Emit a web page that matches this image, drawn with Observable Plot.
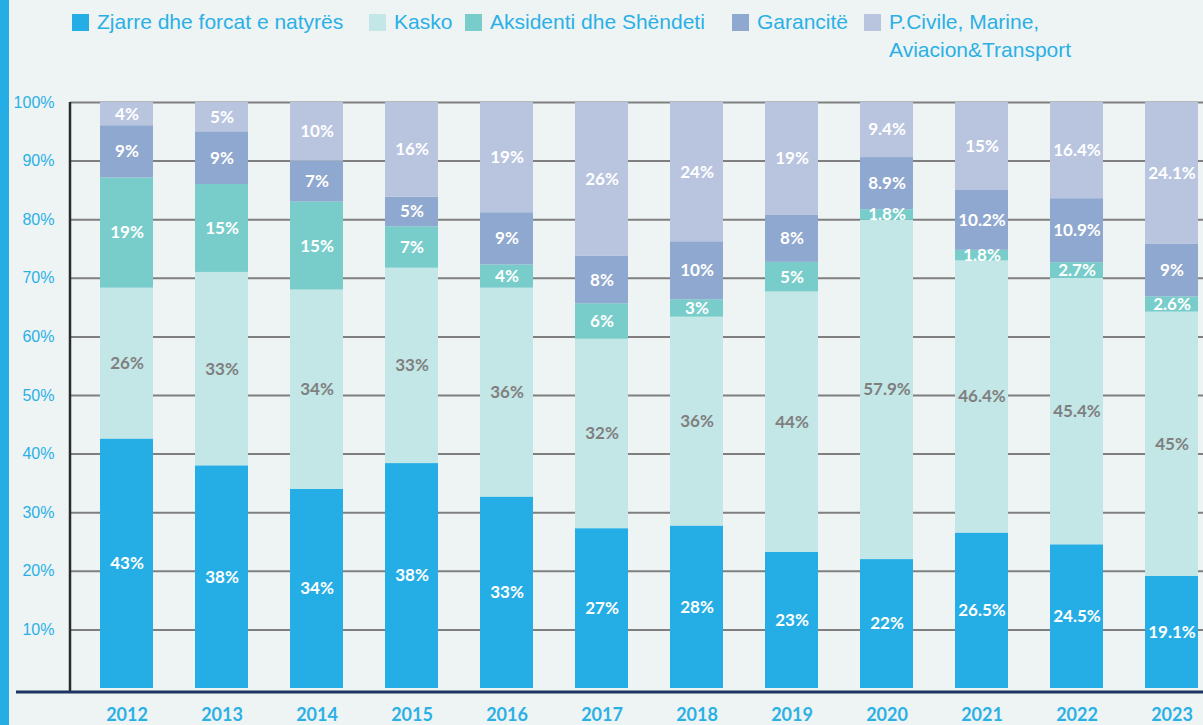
<!DOCTYPE html>
<html>
<head>
<meta charset="utf-8">
<script src="https://cdn.jsdelivr.net/npm/d3@7"></script>
<script src="https://cdn.jsdelivr.net/npm/@observablehq/plot@0.6"></script>
<style>
  html, body { margin: 0; padding: 0; }
  body { width: 1203px; height: 725px; background: #eef4f4; position: relative; overflow: hidden; }
  #strip { position: absolute; left: 0; top: 0; width: 9px; height: 725px; background: #25aee5; z-index: 2; }
  #legend { position: relative; height: 70px; font-family: "Liberation Sans", Arial, sans-serif; font-size: 21px; color: #2bb0e6; }
  .item { position: absolute; top: 8px; display: flex; align-items: flex-start; line-height: 28px; }
  .sw { width: 17px; height: 17px; margin-top: 6px; margin-right: 8px; flex: none; }
  #chart { position: absolute; left: 0; top: 70px; }
  #chart svg { overflow: hidden; }
</style>
</head>
<body>
<div id="strip"></div>
<div id="legend"></div>
<div id="chart"></div>
<script>
const years = ["2012","2013","2014","2015","2016","2017","2018","2019","2020","2021","2022","2023"];
const categories = ["Zjarre dhe forcat e natyrës", "Kasko", "Aksidenti dhe Shëndeti", "Garancitë", "P.Civile, Marine, Aviacion&Transport"];
const legendLabels = ["Zjarre dhe forcat e natyrës", "Kasko", "Aksidenti dhe Shëndeti", "Garancitë", "P.Civile, Marine,<br>Aviacion&amp;Transport"];
const colors = ["#25aee5", "#c3e6e7", "#78cdcb", "#8fa8cf", "#b9c5df"];

const zjarre    = [43, 38, 34, 38, 33, 27, 28, 23, 22, 26.5, 24.5, 19.1];
const kasko     = [26, 33, 34, 33, 36, 32, 36, 44, 57.9, 46.4, 45.4, 45];
const aksidenti = [19, 15, 15, 7, 4, 6, 3, 5, 1.8, 1.8, 2.7, 2.6];
const garancite = [9, 9, 7, 5, 9, 8, 10, 8, 8.9, 10.2, 10.9, 9];
const pcivile   = [4, 5, 10, 16, 19, 26, 24, 19, 9.4, 15, 16.4, 24.1];

const yTicks = [0.1, 0.2, 0.3, 0.4, 0.5, 0.6, 0.7, 0.8, 0.9, 1.0];

const seriesValues = [zjarre, kasko, aksidenti, garancite, pcivile];
const table = years.flatMap((yr, i) => categories.map((c, j) => ({year: yr, cat: c, value: seriesValues[j][i]})));

// legend
const legendLefts = [72, 369, 465, 732, 864];
const legend = document.getElementById("legend");
categories.forEach((c, j) => {
  const it = document.createElement("div");
  it.className = "item";
  it.style.left = legendLefts[j] + "px";
  it.innerHTML = `<div class="sw" style="background:${colors[j]}"></div><div>${legendLabels[j]}</div>`;
  legend.appendChild(it);
});

const labelFont = "Lato, 'Open Sans', sans-serif";

const plot = Plot.plot({
  width: 1203,
  height: 655,
  marginLeft: 70,
  marginRight: 0,
  marginTop: 32,
  marginBottom: 37,
  style: {background: "transparent", overflow: "hidden"},
  x: {domain: years, range: [74.6, 1223.9], paddingInner: 0.447, paddingOuter: 0.2235, axis: null, label: null},
  y: {domain: [0, 1], axis: null, label: null},
  color: {domain: categories, range: colors},
  marks: [
    Plot.ruleY(yTicks, {stroke: "#7f7f7f", strokeWidth: 2}),
    Plot.barY(table, Plot.stackY({offset: "normalize", order: categories, x: "year", y: "value", fill: "cat"})),
    Plot.text(table, Plot.stackY({
      offset: "normalize", order: categories, x: "year", y: "value",
      text: d => d.value + "%",
      fill: d => d.cat === "Kasko" ? "#7f7f7f" : "#ffffff",
      fontSize: 17, fontWeight: 700, fontFamily: labelFont
    })),
    Plot.axisY({ticks: yTicks, tickFormat: d3.format(".0%"), tickSize: 0, tickPadding: 16, label: null, color: "#2bb0e6", fontSize: 16, fontFamily: "'Liberation Sans', Arial, sans-serif"}),
    Plot.axisX({tickSize: 0, tickPadding: 20, label: null, color: "#2bb0e6", fontSize: 18, fontWeight: 700, fontFamily: labelFont}),
    (index, scales, values, dims) => {
      const g = d3.create("svg:g");
      const y0 = scales.y(0), y1 = scales.y(1);
      g.append("line").attr("x1", dims.marginLeft).attr("x2", dims.marginLeft)
        .attr("y1", y1).attr("y2", y0 + 4).attr("stroke", "#2b2b2b").attr("stroke-width", 2.5);
      g.append("line").attr("x1", 16).attr("x2", dims.width)
        .attr("y1", y0 + 4).attr("y2", y0 + 4).attr("stroke", "#1e3461").attr("stroke-width", 3);
      return g.node();
    }
  ]
});
document.getElementById("chart").appendChild(plot);
</script>
</body>
</html>
